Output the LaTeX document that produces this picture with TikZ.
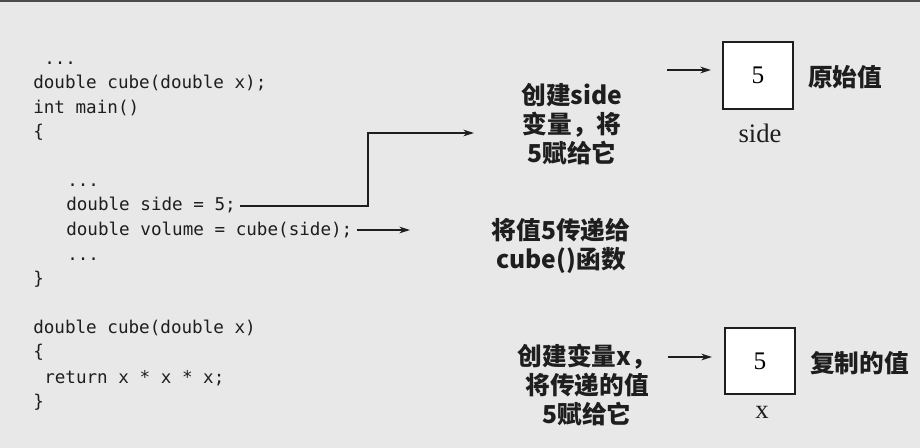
\documentclass[tikz,border=0pt]{standalone}
\usepackage{fontspec}
\setmainfont{Liberation Serif}
\setmonofont{DejaVu Sans Mono}
\newfontfamily\cjk{Noto Sans CJK SC}
\usetikzlibrary{arrows.meta}
\definecolor{bg}{HTML}{E8E8E8}
\definecolor{ink}{HTML}{1E1E1E}
\tikzset{
  code/.style={anchor=base west, inner sep=0pt, font=\ttfamily\fontsize{13.2}{16}\selectfont, text=ink},
  note/.style={align=center, inner sep=0pt, font=\cjk\bfseries\fontsize{18.5}{21.8}\selectfont, text=ink},
  side/.style={anchor=west, inner sep=0pt, font=\cjk\bfseries\fontsize{18.5}{21.8}\selectfont, text=ink},
  valbox/.style={draw=ink, line width=1.6pt, fill=white, minimum width=53pt, minimum height=50pt, inner sep=0pt, font=\fontsize{19}{21}\selectfont},
  lbl/.style={inner sep=0pt, font=\fontsize{20}{22}\selectfont, text=ink},
  conn/.style={draw=ink, line width=0.9pt},
  arr/.style={conn, -{Stealth[length=8pt,width=5pt]}}
}
\begin{document}
\begin{tikzpicture}[x=0.75pt,y=-0.75pt]
\fill[bg] (0,0) rectangle (920,448);
\useasboundingbox (0,0) rectangle (920,448);
\fill[ink!80] (0,0) rectangle (920,2.5);
% code
\node[code] (c1) at (44,65) {...};
\node[code] (c2) at (33,89) {double cube(double x);};
\node[code] (c3) at (33,114) {int main()};
\node[code] (c4) at (33,138) {\{};
\node[code] (c5) at (67,187) {...};
\node[code] (c6) at (66,211) {double side = 5;};
\node[code] (c7) at (66,236) {double volume = cube(side);};
\node[code] (c8) at (67,261) {...};
\node[code] (c9) at (33,285) {\}};
\node[code] (c10) at (33,334) {double cube(double x)};
\node[code] (c11) at (33,358) {\{};
\node[code] (c12) at (44,383) {return x * x * x;};
\node[code] (c13) at (33,407) {\}};
% notes
\node[note] (n1) at (572,124) {创建side\\变量，将\\5赋给它};
\node[note] (n2) at (561,246) {将值5传递给\\cube()函数};
\node[note] (n3) at (587,385) {创建变量x，\\将传递的值\\5赋给它};
% boxes
\node[valbox] (b1) at (758,75.5) {5};
\node[lbl] (l1) at (760,133) {side};
\node[side] (s1) at (808,77) {原始值};
\node[valbox] (b2) at (760,361) {5};
\node[lbl] (l2) at (762,412) {x};
\node[side] (s2) at (810,363) {复制的值};
% connectors
\coordinate (p1) at (240,206);
\coordinate (p2) at (368,206);
\coordinate (p3) at (368,133);
\coordinate (p4) at (474,133);
\draw[arr] (p1) -- (p2) -- (p3) -- (p4);
\coordinate (q1) at (357,230);
\coordinate (q2) at (410,230);
\draw[arr] (q1) -- (q2);
\coordinate (r1) at (667,70);
\coordinate (r2) at (711,70);
\draw[arr] (r1) -- (r2);
\coordinate (t1) at (668,357);
\coordinate (t2) at (712,357);
\draw[arr] (t1) -- (t2);
\end{tikzpicture}
\end{document}
